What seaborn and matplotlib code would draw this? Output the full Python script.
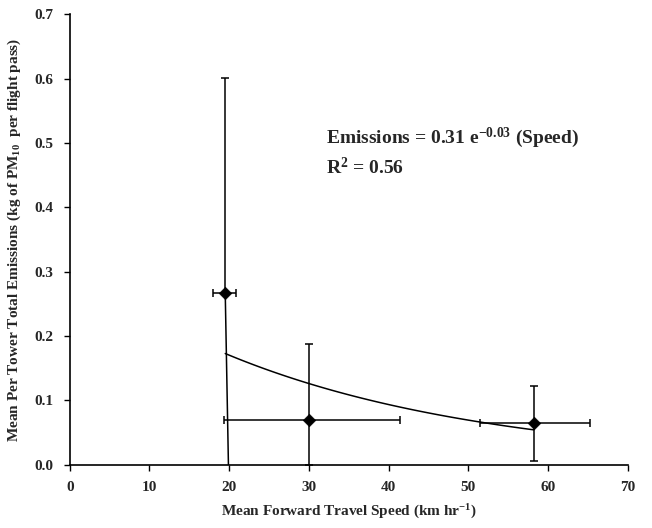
import numpy as np
import pandas as pd
import matplotlib
matplotlib.use("Agg")
import matplotlib.pyplot as plt
import seaborn as sns

# ---- data ----
speed = [19.5, 30.0, 58.2]
emissions = [0.267, 0.070, 0.064]
speed_lo = [18.0, 19.4, 51.4]
speed_hi = [20.9, 41.4, 65.2]
emis_lo = [0.0, 0.0, 0.005]
emis_hi = [0.601, 0.187, 0.123]
fit_a = 0.31
fit_b = -0.03
xticks = [0, 10, 20, 30, 40, 50, 60, 70]
yticks = [0.0, 0.1, 0.2, 0.3, 0.4, 0.5, 0.6, 0.7]

sns.set_theme(style="ticks")
plt.rcParams['font.family'] = ['Liberation Serif', 'DejaVu Serif']
plt.rcParams['font.weight'] = 'bold'
plt.rcParams['mathtext.fontset'] = 'custom'
plt.rcParams['mathtext.rm'] = 'Liberation Serif:bold'
plt.rcParams['mathtext.it'] = 'Liberation Serif:bold'
plt.rcParams['mathtext.bf'] = 'Liberation Serif:bold'

df = pd.DataFrame({"speed": speed, "emissions": emissions})

fig = plt.figure(figsize=(6.52, 5.28), dpi=100)
ax = fig.add_axes([0.107, 0.12, 0.856, 0.853])

sx = np.array(speed); sy = np.array(emissions)
xerr = [sx - np.array(speed_lo), np.array(speed_hi) - sx]
# first point's lower bar drawn separately (slightly slanted in the reference)
ylo = sy - np.array(emis_lo)
ylo[0] = 0
yerr = [ylo, np.array(emis_hi) - sy]
ax.errorbar(sx, sy, xerr=xerr, yerr=yerr, fmt='none', ecolor='black',
            elinewidth=1.1, capsize=3, capthick=1.1, zorder=2)
ax.plot([speed[0], speed[0] + 0.4], [emissions[0], emis_lo[0]], color='black', lw=1.1, zorder=2)

# fitted curve from the equation shown on the chart
xf = np.linspace(speed[0], speed[-1], 100)
fit_df = pd.DataFrame({"speed": xf, "fit": fit_a * np.exp(fit_b * xf)})
sns.lineplot(data=fit_df, x="speed", y="fit", color='black', lw=1.1, ax=ax, zorder=3)

sns.scatterplot(data=df, x="speed", y="emissions", marker='D', s=40, color='black',
                edgecolor='black', ax=ax, zorder=4)

ax.set_xlim(0, 70)
ax.set_ylim(0, 0.7)
ax.set_xticks(xticks)
ax.set_yticks(yticks)
ax.set_xticklabels([str(t) for t in xticks], fontsize=11, fontweight='bold')
ax.set_yticklabels([f"{t:.1f}" for t in yticks], fontsize=11, fontweight='bold')
ax.tick_params(direction='out', length=4, width=1, color='black', pad=8)
for s in ['top', 'right']:
    ax.spines[s].set_visible(False)
for s in ['left', 'bottom']:
    ax.spines[s].set_color('black')
    ax.spines[s].set_linewidth(1.2)

ax.set_xlabel(r'Mean Forward Travel Speed (km hr$^{-1}$)', fontsize=11, fontweight='bold', labelpad=6)
ax.set_ylabel(r'Mean Per Tower Total Emissions (kg of PM$_{10}$  per flight pass)', fontsize=11,
              fontweight='bold', labelpad=8)

ax.text(32.2, 0.508, r'Emissions = 0.31 e$^{-0.03}$ (Speed)', fontsize=14, fontweight='bold',
        va='center', ha='left')
ax.text(32.2, 0.462, r'R$^{2}$ = 0.56', fontsize=14, fontweight='bold', va='center', ha='left')

fig.savefig('out.png', dpi=100)
